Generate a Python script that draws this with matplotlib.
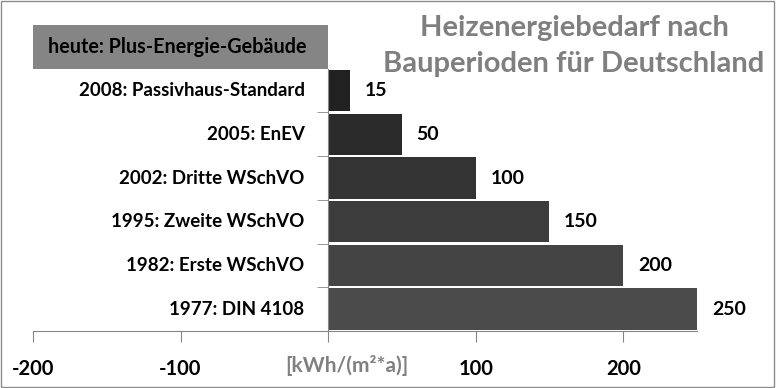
import matplotlib.pyplot as plt
from matplotlib.patches import Rectangle
import numpy as np

# data, bottom row first
periods = ["1977: DIN 4108", "1982: Erste WSchVO", "1995: Zweite WSchVO",
           "2002: Dritte WSchVO", "2005: EnEV", "2008: Passivhaus-Standard"]
demand = [250, 200, 150, 100, 50, 15]
bar_colors = ["#4b4b4b", "#444444", "#3c3c3c", "#333333", "#2a2a2a", "#212121"]
top_label = "heute: Plus-Energie-Gebäude"
xticks = [-200, -100, 0, 100, 200]
xtick_labels = ["-200", "-100", "", "100", "200"]
unit_label = "[kWh/(m²*a)]"
title_lines = "Heizenergiebedarf nach\nBauperioden für Deutschland"

plt.rcParams['font.family'] = ['Lato', 'DejaVu Sans']

fig = plt.figure(figsize=(7.76, 3.88), dpi=100)
ax = fig.add_axes([33 / 776, 57 / 388, 664 / 776, 306 / 388])

y = np.arange(len(periods))
ax.barh(y, demand, height=0.95, color=bar_colors, zorder=2)

xmin, xmax = -200, 250
ax.set_xlim(xmin, xmax)
ax.set_ylim(-0.5, len(periods) + 0.5)

# grey box behind the "heute" row
top_row = len(periods)
ax.barh(top_row, -xmin, left=xmin, height=1.0, color="#858585", zorder=3)
ax.text(xmin + 10, top_row, top_label, ha="left", va="center",
        fontsize=14.2, fontweight="bold", color="black", zorder=4)

for yi, lab, val in zip(y, periods, demand):
    ax.text(-16, yi, lab, ha="right", va="center", fontsize=13.5,
            fontweight="bold", color="black")
    ax.text(val + 10, yi, str(val), ha="left", va="center", fontsize=14,
            fontweight="bold", color="black", clip_on=False)

for s in ["top", "right"]:
    ax.spines[s].set_visible(False)
ax.spines["left"].set_position(("data", 0))
ax.spines["left"].set_bounds(-0.5, len(periods) - 0.5)
ax.spines["left"].set_color("#868686")
ax.spines["bottom"].set_color("#868686")

ax.set_yticks([])
ax.set_yticks(np.arange(len(periods)) - 0.5, minor=True)
ax.tick_params(axis="y", which="minor", direction="out", length=8,
               color="#868686", labelleft=False)

ax.set_xticks(xticks)
ax.set_xticklabels(xtick_labels)
ax.tick_params(axis="x", direction="out", length=8, color="#868686",
               pad=12, labelsize=14.5)
for t in ax.get_xticklabels():
    t.set_fontweight("bold")

# unit label sits on the tick label line next to zero
ax.text(13, -1.3, unit_label, ha="center", va="center",
        fontsize=15, fontweight="bold", color="#808080")

fig.text(574 / 776, 1 - 46 / 388, title_lines, ha="center", va="center",
         fontsize=21, fontweight="bold", color="#7f7f7f", linespacing=1.45)

fig.patches.append(Rectangle((0.001, 0.002), 0.997, 0.995, transform=fig.transFigure,
                             fill=False, edgecolor="#8c8c8c", linewidth=1))

fig.savefig("out.png", dpi=100)
